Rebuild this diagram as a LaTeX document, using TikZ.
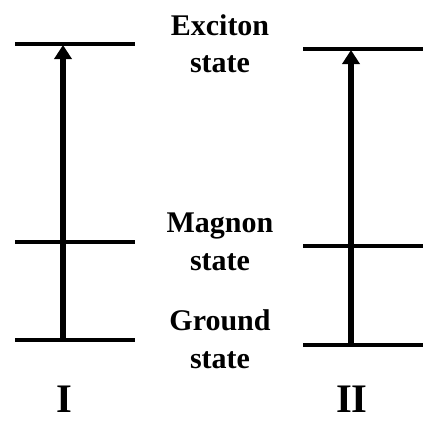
\documentclass[tikz,border=0pt]{standalone}
\usepackage{fontspec}
\setmainfont{Liberation Serif}
\usetikzlibrary{arrows.meta}
\begin{document}
\begin{tikzpicture}[x=1pt,y=-1pt,
  level/.style={line width=4pt},
  trans/.style={line width=5.5pt,-{Triangle[length=14pt,width=17pt]}},
  lab/.style={anchor=base,inner sep=0pt,font=\bfseries\fontsize{30}{36}\selectfont},
  roman/.style={anchor=base,inner sep=0pt,font=\bfseries\fontsize{40.5}{48}\selectfont}]
\useasboundingbox (0,0) rectangle (428,421);
% level coordinates
\coordinate (LeL) at (15,44);  \coordinate (LeR) at (135,44);
\coordinate (LmL) at (15,242); \coordinate (LmR) at (135,242);
\coordinate (LgL) at (15,340); \coordinate (LgR) at (135,340);
\coordinate (ReL) at (303,49);  \coordinate (ReR) at (423,49);
\coordinate (RmL) at (303,246); \coordinate (RmR) at (423,246);
\coordinate (RgL) at (303,345); \coordinate (RgR) at (423,345);
\coordinate (Lbot) at (63,340); \coordinate (Ltop) at (63,45);
\coordinate (Rbot) at (351,345); \coordinate (Rtop) at (351,50);
\draw[level] (LeL) -- (LeR);
\draw[level] (LmL) -- (LmR);
\draw[level] (LgL) -- (LgR);
\draw[level] (ReL) -- (ReR);
\draw[level] (RmL) -- (RmR);
\draw[level] (RgL) -- (RgR);
\draw[trans] (Lbot) -- (Ltop);
\draw[trans] (Rbot) -- (Rtop);
% labels
\node[lab] (ex1) at (220,35) {Exciton};
\node[lab] (ex2) at (220,72) {state};
\node[lab] (ma1) at (220,232) {Magnon};
\node[lab] (ma2) at (220,270) {state};
\node[lab] (gr1) at (220,330) {Ground};
\node[lab] (gr2) at (220,368) {state};
\node[roman] (one) at (64,412) {I};
\node[roman] (two) at (352,412) {II};
\end{tikzpicture}
\end{document}
